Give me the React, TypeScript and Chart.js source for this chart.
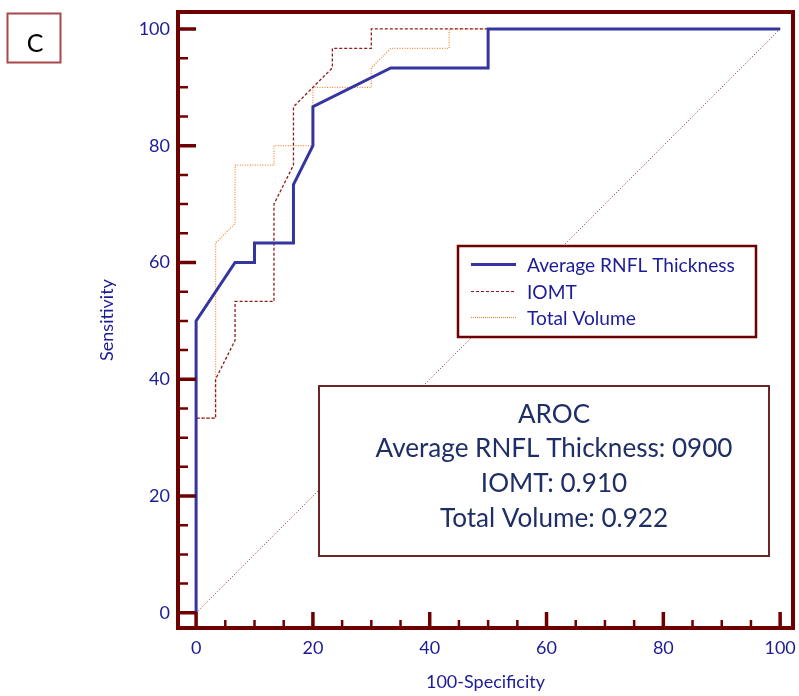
import React, { useEffect, useRef } from "react";
import { Chart, registerables } from "chart.js";

Chart.register(...registerables);

// ---- Data (100-Specificity, Sensitivity) ----
const rnflX = [0, 0, 6.67, 10, 10, 16.67, 16.67, 20, 20, 33.33, 50, 50, 100];
const rnflY = [0, 50, 60, 60, 63.33, 63.33, 73.33, 80, 86.67, 93.33, 93.33, 100, 100];

const iomtX = [0, 0, 3.33, 3.33, 6.67, 6.67, 13.33, 13.33, 16.67, 16.67, 23.33, 23.33, 30, 30, 100];
const iomtY = [0, 33.33, 33.33, 40, 46.67, 53.33, 53.33, 70, 76.67, 86.67, 93.33, 96.67, 96.67, 100, 100];

const volX = [0, 0, 3.33, 3.33, 6.67, 6.67, 13.33, 13.33, 20, 20, 30, 30, 33.33, 43.33, 43.33, 100];
const volY = [0, 33.33, 33.33, 63.33, 66.67, 76.67, 76.67, 80, 80, 90, 90, 93.33, 96.67, 96.67, 100, 100];

const diagX = [0, 100];
const diagY = [0, 100];

const seriesNames = ["Average RNFL Thickness", "IOMT", "Total Volume"];
const arocLines = ["AROC", "Average RNFL Thickness: 0900", "IOMT: 0.910", "Total Volume: 0.922"];
const majorTicks = [0, 20, 40, 60, 80, 100];
const minorStep = 5;
const panelLabel = "C";
const xTitle = "100-Specificity";
const yTitle = "Sensitivity";

const FONT = "Lato, 'Open Sans', sans-serif";
const NAVY = "#1c1c96";
const AROC_NAVY = "#1f2f66";
const FRAME = "#6e0000";
const BLUE = "#3535a0";
const RED = "#8e1c1c";
const ORANGE = "#f58a3c";

const pts = (xs: number[], ys: number[]) => xs.map((x, i) => ({ x, y: ys[i] }));

function fitSize(ctx: CanvasRenderingContext2D, text: string, target: number) {
  ctx.font = `100px ${FONT}`;
  const w = ctx.measureText(text).width;
  return (100 * target) / w;
}

const decorPlugin = {
  id: "decor",
  afterDatasetsDraw(chart: any) {
    const ctx: CanvasRenderingContext2D = chart.ctx;
    ctx.save();
    // Legend box
    const lx = 458, ly = 246, lw = 298, lh = 91;
    ctx.fillStyle = "#ffffff";
    ctx.fillRect(lx, ly, lw, lh);
    ctx.strokeStyle = FRAME;
    ctx.lineWidth = 2.5;
    ctx.strokeRect(lx, ly, lw, lh);
    const lsize = fitSize(ctx, seriesNames[0], 208);
    ctx.font = `${lsize}px ${FONT}`;
    ctx.fillStyle = NAVY;
    ctx.textAlign = "left";
    ctx.textBaseline = "middle";
    const rows = [264.5, 291.5, 317.5];
    const styles = [
      { c: BLUE, w: 3, d: [] as number[] },
      { c: RED, w: 1.2, d: [3, 2] },
      { c: ORANGE, w: 1.2, d: [1, 1] },
    ];
    rows.forEach((ry, i) => {
      ctx.beginPath();
      ctx.setLineDash(styles[i].d);
      ctx.strokeStyle = styles[i].c;
      ctx.lineWidth = styles[i].w;
      ctx.moveTo(471, ry);
      ctx.lineTo(516, ry);
      ctx.stroke();
      ctx.setLineDash([]);
      ctx.fillText(seriesNames[i], 527, ry + 1);
    });

    // AROC box
    const ax = 319, ay = 386, aw = 450, ah = 170;
    ctx.fillStyle = "#ffffff";
    ctx.fillRect(ax, ay, aw, ah);
    ctx.strokeStyle = "#6e2424";
    ctx.lineWidth = 2;
    ctx.strokeRect(ax, ay, aw, ah);
    const asize = fitSize(ctx, arocLines[1], 357);
    ctx.font = `${asize}px ${FONT}`;
    ctx.fillStyle = AROC_NAVY;
    ctx.textAlign = "center";
    const aRows = [415, 449, 484, 519];
    arocLines.forEach((t, i) => ctx.fillText(t, 554, aRows[i]));
    ctx.restore();
  },
  afterDraw(chart: any) {
    const ctx: CanvasRenderingContext2D = chart.ctx;
    const { left, top, right, bottom } = chart.chartArea;
    const xs = chart.scales.x;
    const ys = chart.scales.y;
    ctx.save();
    ctx.strokeStyle = FRAME;
    ctx.lineCap = "butt";
    // ticks
    for (let v = 0; v <= 100; v += minorStep) {
      const major = majorTicks.includes(v);
      const px = xs.getPixelForValue(v);
      const py = ys.getPixelForValue(v);
      ctx.lineWidth = major ? 3.5 : 2.5;
      ctx.beginPath();
      ctx.moveTo(px, bottom);
      ctx.lineTo(px, bottom - (major ? 16 : 8));
      ctx.moveTo(left, py);
      ctx.lineTo(left + (major ? 18 : 10), py);
      ctx.stroke();
    }
    // frame
    ctx.lineWidth = 4;
    ctx.strokeRect(left, top, right - left, bottom - top);

    // panel label
    ctx.strokeStyle = "#a84848";
    ctx.lineWidth = 2;
    ctx.strokeRect(7.5, 13.5, 53, 49);
    ctx.fillStyle = "#000000";
    ctx.font = `25px ${FONT}`;
    ctx.textAlign = "center";
    ctx.textBaseline = "middle";
    ctx.fillText(panelLabel, 35, 44);
    ctx.restore();
  },
};

export default function App() {
  const ref = useRef<HTMLCanvasElement | null>(null);
  useEffect(() => {
    if (!ref.current) return;
    const tickFont = { family: FONT, size: 18 };
    const chart = new Chart(ref.current, {
      type: "line",
      data: {
        datasets: [
          {
            label: seriesNames[0],
            data: pts(rnflX, rnflY),
            borderColor: BLUE,
            borderWidth: 3,
            pointRadius: 0,
            fill: false,
            tension: 0,
            order: 0,
          },
          {
            label: seriesNames[1],
            data: pts(iomtX, iomtY),
            borderColor: RED,
            borderWidth: 1.3,
            borderDash: [3, 2],
            pointRadius: 0,
            fill: false,
            tension: 0,
            order: 1,
          },
          {
            label: seriesNames[2],
            data: pts(volX, volY),
            borderColor: ORANGE,
            borderWidth: 1.3,
            borderDash: [1, 1.5],
            pointRadius: 0,
            fill: false,
            tension: 0,
            order: 2,
          },
          {
            label: "Reference",
            data: pts(diagX, diagY),
            borderColor: "#9a2020",
            borderWidth: 1,
            borderDash: [1, 2],
            pointRadius: 0,
            fill: false,
            tension: 0,
            order: 3,
          },
        ],
      },
      options: {
        responsive: false,
        animation: false,
        events: [],
        layout: { padding: { left: 0, top: 12, right: 6, bottom: 0 } },
        plugins: { legend: { display: false }, tooltip: { enabled: false } },
        scales: {
          x: {
            type: "linear",
            min: -3.1,
            max: 102.2,
            grid: { display: false, drawTicks: false },
            border: { display: false },
            afterBuildTicks: (s: any) => {
              s.ticks = majorTicks.map((v) => ({ value: v }));
            },
            afterFit: (s: any) => {
              s.height = 68;
              s.paddingLeft = 0;
              s.paddingRight = 0;
            },
            ticks: { font: tickFont, color: NAVY, padding: 9, maxRotation: 0, autoSkip: false },
            title: {
              display: true,
              text: xTitle,
              color: NAVY,
              font: { family: FONT, size: 18 },
              padding: { top: 0, bottom: 3 },
            },
          },
          y: {
            type: "linear",
            min: -2.6,
            max: 102.9,
            grid: { display: false, drawTicks: false },
            border: { display: false },
            afterBuildTicks: (s: any) => {
              s.ticks = majorTicks.map((v) => ({ value: v }));
            },
            afterFit: (s: any) => {
              s.width = 178;
              s.paddingTop = 0;
              s.paddingBottom = 0;
            },
            ticks: { font: tickFont, color: NAVY, padding: 8, autoSkip: false },
            title: {
              display: true,
              text: yTitle,
              color: NAVY,
              font: { family: FONT, size: 18 },
              padding: { top: 96, bottom: 0 },
            },
          },
        },
      },
      plugins: [decorPlugin],
    });
    return () => chart.destroy();
  }, []);
  return (
    <div style={{ position: "absolute", left: 0, top: 0, width: 799, height: 696, background: "#fff" }}>
      <canvas ref={ref} width={799} height={696} style={{ display: "block" }} />
    </div>
  );
}
